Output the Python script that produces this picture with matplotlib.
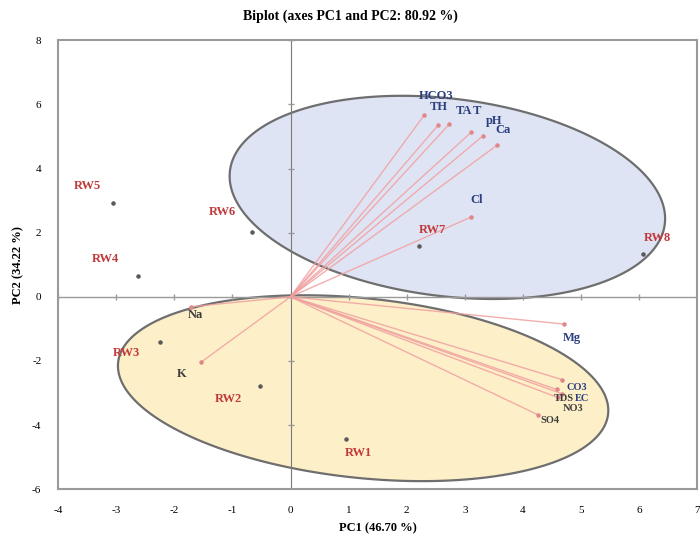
import numpy as np
import matplotlib
matplotlib.use("Agg")
import matplotlib.pyplot as plt

# observations (factor scores)
obs_names = ["RW1", "RW2", "RW3", "RW4", "RW5", "RW6", "RW7", "RW8"]
obs_pc1 = [0.95, -0.52, -2.25, -2.63, -3.06, -0.66, 2.21, 6.06]
obs_pc2 = [-4.43, -2.77, -1.42, 0.66, 2.92, 2.01, 1.60, 1.35]

# variables (loadings, scaled)
var_names = ["HCO3", "TH", "TA", "T", "pH", "Ca", "Cl", "Mg", "Na", "K",
             "CO3", "TDS", "EC", "NO3", "SO4"]
var_pc1 = [2.30, 2.54, 2.73, 3.11, 3.32, 3.55, 3.10, 4.71, -1.71, -1.54,
           4.67, 4.58, 4.67, 4.60, 4.26]
var_pc2 = [5.66, 5.35, 5.38, 5.13, 5.03, 4.72, 2.48, -0.85, -0.31, -2.04,
           -2.58, -2.89, -3.02, -3.14, -3.68]

xticks = [-4, -3, -2, -1, 0, 1, 2, 3, 4, 5, 6, 7]
yticks = [-6, -4, -2, 0, 2, 4, 6, 8]

# label offsets in pixels
obs_off = [(13, -14), (-32, -13), (-33, -11), (-32, 17), (-25, 17),
           (-30, 20), (14, 16), (15, 16)]
var_off = [(12, 19), (1, 18), (15, 13), (6, 21), (11, 15), (6, 15),
           (6, 17), (8, -14), (4, -8), (-19, -12),
           (15, -8), (7, -9), (20, -5), (15, -11), (12, -6)]
small = ["CO3", "TDS", "EC", "NO3", "SO4"]

serif = ["Liberation Serif", "DejaVu Serif"]
navy = "#2b3f7e"

fig = plt.figure(figsize=(7, 5.37), dpi=100)
ax = fig.add_axes([0.083, 0.089, 0.913, 0.836])
ax.set_xlim(-4, 7)
ax.set_ylim(-6, 8)

# pixel scale per data unit, used to draw tilted ellipses
bb = ax.get_window_extent()
sx = bb.width / 11.0
sy = bb.height / 14.0


def ellipse(cx, cy, a, b, ang, fc):
    t = np.linspace(0, 2 * np.pi, 300)
    th = np.deg2rad(ang)
    px = a * sx * np.cos(t)
    py = b * sy * np.sin(t)
    rx = px * np.cos(th) - py * np.sin(th)
    ry = px * np.sin(th) + py * np.cos(th)
    ax.fill(cx + rx / sx, cy + ry / sy, facecolor=fc, edgecolor="#6e6e6e",
            lw=1.6, zorder=1)


ellipse(2.70, 3.10, 3.77, 3.08, -7, "#dfe4f4")
ellipse(1.25, -2.85, 4.24, 2.80, -6, "#fdf0c9")

ax.axhline(0, color="#9a9a9a", lw=1.0, zorder=2)
ax.axvline(0, color="#7a7a7a", lw=0.8, zorder=2)
ax.plot([0] * len(yticks), yticks, ls="none", marker="_", ms=5,
        color="#9a9a9a", zorder=2)
ax.plot(xticks, [0] * len(xticks), ls="none", marker="|", ms=5,
        color="#9a9a9a", zorder=2)

for x, y in zip(var_pc1, var_pc2):
    ax.plot([0, x], [0, y], color="#f1a0a0", lw=1.0, alpha=0.85, zorder=3)
ax.scatter(var_pc1, var_pc2, s=5, color="#e08888", zorder=4)

ax.scatter(obs_pc1, obs_pc2, s=5, color="#5a5a5a", zorder=4)

for name, x, y, off in zip(obs_names, obs_pc1, obs_pc2, obs_off):
    ax.annotate(name, (x, y), xytext=off, textcoords="offset pixels",
                ha="center", va="center", color="#c0393b", fontsize=9,
                fontweight="bold", family=serif, zorder=5)

dark = ["Na", "K", "SO4", "TDS", "NO3"]
for name, x, y, off in zip(var_names, var_pc1, var_pc2, var_off):
    ax.annotate(name, (x, y), xytext=off, textcoords="offset pixels",
                ha="center", va="center",
                color="#3c3c3c" if name in dark else navy,
                fontsize=7.5 if name in small else 9,
                fontweight="bold", family=serif, zorder=5)

ax.set_xticks(xticks)
ax.set_yticks(yticks)
ax.set_xticklabels([str(v) for v in xticks], family=serif, fontsize=8)
ax.set_yticklabels([str(v) for v in yticks], family=serif, fontsize=8)
ax.tick_params(length=0, pad=12)
for s in ax.spines.values():
    s.set_color("#9a9a9a")
    s.set_linewidth(1.5)

fig.text(0.5, 0.97, "Biplot (axes PC1 and PC2: 80.92 %)", ha="center",
         va="center", fontsize=10, fontweight="bold", family=serif)
fig.text(0.54, 0.017, "PC1 (46.70 %)", ha="center", va="center",
         fontsize=9, fontweight="bold", family=serif)
fig.text(0.026, 0.507, "PC2 (34.22 %)", ha="center", va="center",
         rotation=90, fontsize=9, fontweight="bold", family=serif)

fig.savefig("out.png", dpi=100)
